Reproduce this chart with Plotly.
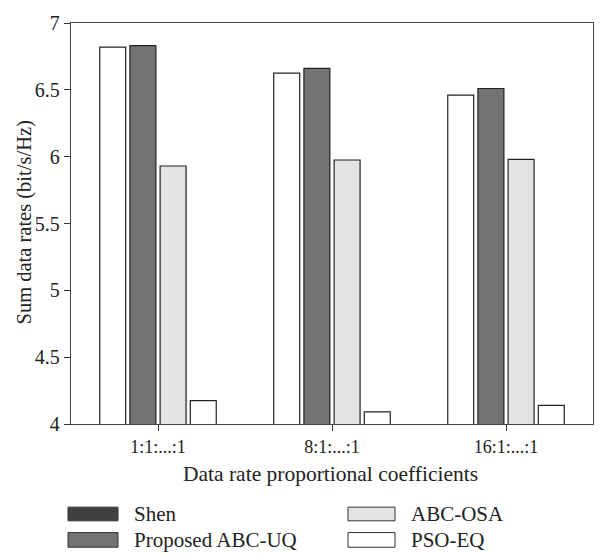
import plotly.graph_objects as go

# Data rate proportional coefficients (group labels)
categories = ["1:1:...:1", "8:1:...:1", "16:1:...:1"]

# Sum data rates (bit/s/Hz) per scheme
shen = [6.82, 6.625, 6.46]
abc_uq = [6.83, 6.66, 6.51]
abc_osa = [5.93, 5.975, 5.98]
pso_eq = [4.175, 4.09, 4.14]

series_names = ["Shen", "Proposed ABC-UQ", "ABC-OSA", "PSO-EQ"]
series_values = [shen, abc_uq, abc_osa, pso_eq]
bar_fills = ["#ffffff", "#737373", "#e3e3e3", "#ffffff"]
legend_fills = ["#404040", "#737373", "#e3e3e3", "#ffffff"]

y_ticks = [4, 4.5, 5, 5.5, 6, 6.5, 7]

FONT = "Liberation Serif"
W, H = 611, 557
L, R, T, B = 71, 18, 14, 133
PW, PH = W - L - R, H - T - B


def px_x(p):
    return (p - L) / PW


def px_y(p):
    return (H - B - p) / PH


fig = go.Figure()
for name, vals, fill in zip(series_names, series_values, bar_fills):
    fig.add_trace(go.Bar(
        x=categories, y=vals, name=name, showlegend=False,
        marker=dict(color=fill, line=dict(color="#222222", width=1.2)),
        hoverinfo="x+y+name",
    ))

# Legend drawn as swatches + labels in two columns below the axes
legend_slots = [
    (68, 118, 509, 523, 132),   # Shen
    (68, 118, 535, 550, 132),   # Proposed ABC-UQ
    (348, 395, 509, 523, 409),  # ABC-OSA
    (348, 395, 535, 550, 409),  # PSO-EQ
]
shapes = []
annotations = []
for name, fill, (x0, x1, y0, y1, tx) in zip(series_names, legend_fills, legend_slots):
    shapes.append(dict(
        type="rect", xref="paper", yref="paper",
        x0=px_x(x0), x1=px_x(x1), y0=px_y(y1), y1=px_y(y0),
        fillcolor=fill, line=dict(color="#333333", width=1),
    ))
    annotations.append(dict(
        xref="paper", yref="paper", x=px_x(tx), y=px_y((y0 + y1) / 2),
        xanchor="left", yanchor="middle", showarrow=False,
        text=name, font=dict(family=FONT, size=21, color="#222222"),
    ))

# Axis titles
annotations.append(dict(
    xref="paper", yref="paper", x=px_x(330), y=px_y(475),
    xanchor="center", yanchor="middle", showarrow=False,
    text="Data rate proportional coefficients",
    font=dict(family=FONT, size=21.5, color="#222222"),
))
annotations.append(dict(
    xref="paper", yref="paper", x=px_x(25), y=px_y(218),
    xanchor="center", yanchor="middle", showarrow=False, textangle=-90,
    text="Sum data rates (bit/s/Hz)",
    font=dict(family=FONT, size=20.5, color="#222222"),
))

fig.update_layout(
    width=W, height=H,
    margin=dict(l=L, r=R, t=T, b=B, pad=0),
    paper_bgcolor="white", plot_bgcolor="white",
    barmode="group", bargap=0.306, bargroupgap=0.14,
    font=dict(family=FONT, size=18, color="#222222"),
    shapes=shapes, annotations=annotations,
    xaxis=dict(
        range=[-0.5, 2.5], showgrid=False, zeroline=False,
        showline=True, linecolor="#444444", linewidth=1.3, mirror=True,
        ticks="outside", ticklen=6, tickcolor="#333333",
        tickfont=dict(family=FONT, size=18),
    ),
    yaxis=dict(
        range=[4, 7], tickvals=y_ticks, ticktext=[f"{v:g}" for v in y_ticks],
        showgrid=False, zeroline=False,
        showline=True, linecolor="#444444", linewidth=1.3, mirror=True,
        ticks="outside", ticklen=6, tickcolor="#333333",
        tickfont=dict(family=FONT, size=20),
    ),
)

fig.write_html("out.html")
